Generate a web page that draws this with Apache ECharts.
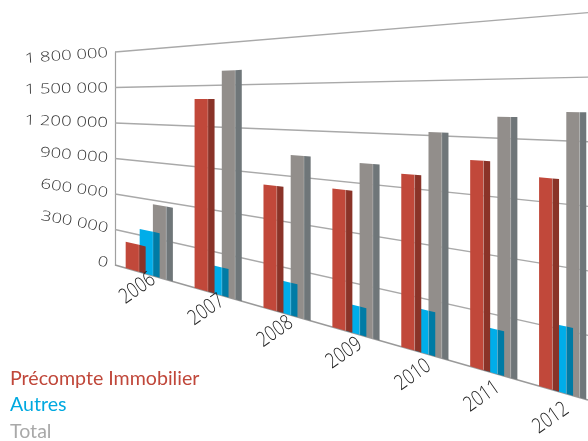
<!DOCTYPE html>
<html><head><meta charset="utf-8">
<style>html,body{margin:0;padding:0;background:#fff;overflow:hidden;width:588px;height:441px}#c{width:620px;height:500px}</style>
<script src="https://cdn.jsdelivr.net/npm/echarts@6/dist/echarts.min.js"></script>
</head><body><div id="c"></div>
<script>
const categories = ['2006','2007','2008','2009','2010','2011','2012'];
const precompte = [219000,1401000,826000,851000,978000,1080000,1017000];
const autres = [349000,200000,210000,168000,240000,226000,319000];
const total = [567000,1603000,1038000,1020000,1219000,1309000,1337000];
const yTicks = [0,300000,600000,900000,1200000,1500000,1800000];
const yTickLabels = ['0','300 000','600 000','900 000','1 200 000','1 500 000','1 800 000'];

// The flat grid is warped onto the receding wall: screen x stays, the
// baseline and the top line of the plot slope towards each other.
const G = {left:115, top:52, h:213, w:482.3};
const SPAN = 473, BASE_R = 400, TOP_R = 12.6;
function warp(x, y){
  const t = (x - G.left) / SPAN;
  const v = (G.top + G.h - y) / G.h;
  const yb = 265 + (BASE_R - 265) * t, yt = 52 + (TOP_R - 52) * t;
  return [x, yb - v * (yb - yt)];
}
function poly(pts, fill){
  return {type:'polygon', silent:true, shape:{points:pts.map(p=>warp(p[0],p[1]))}, style:{fill:fill}};
}
function barSeries(name, values, start, front, side){
  return {
    name, type:'custom', coordinateSystem:'cartesian2d', silent:true,
    data: values.map((v,i)=>[i,v]), encode:{x:0,y:1},
    itemStyle:{color:front},
    renderItem(params, api){
      const band = api.size([1,0])[0];
      const top = api.coord([api.value(0), api.value(1)]);
      const base = api.coord([api.value(0), 0]);
      const x0 = top[0] + start * band, x1 = x0 + 0.1935 * band, x2 = x0 + 0.29 * band;
      return {type:'group', children:[
        poly([[x0,top[1]],[x1,top[1]],[x1,base[1]],[x0,base[1]]], front),
        poly([[x1,top[1]],[x2,top[1]],[x2,base[1]],[x1,base[1]]], side),
        {type:'polyline', silent:true, shape:{points:[warp(x1,top[1]),warp(x1,base[1])]},
         style:{stroke:'rgba(255,255,255,0.3)', lineWidth:0.7, fill:null}}
      ]};
    }
  };
}
const gridSeries = {
  type:'custom', coordinateSystem:'cartesian2d', silent:true, z:1,
  data: yTicks.map(v=>[0,v]), encode:{y:1},
  renderItem(params, api){
    const y = api.coord([0, api.value(1)])[1];
    const isBase = api.value(1) === 0;
    return {type:'polyline', silent:true,
      shape:{points:[warp(G.left,y), warp(G.left+SPAN,y)]},
      style:{stroke:isBase?'#9a9a9a':'#a9a9a9', lineWidth:isBase?1.6:1.3, fill:null}};
  }
};
const yLabelSeries = {
  type:'custom', coordinateSystem:'cartesian2d', silent:true,
  data: yTicks.map((v,i)=>[i,v]), encode:{y:1},
  renderItem(params, api){
    const i = api.value(0), y = api.coord([0, api.value(1)])[1];
    const a = warp(G.left,y), b = warp(G.left+SPAN,y);
    const p = warp(G.left-7,y);
    return {type:'text', silent:true, x:p[0], y:p[1]+0.5,
      rotation:-Math.atan2(b[1]-a[1], b[0]-a[0])*0.85, scaleX:1.32,
      style:{text:yTickLabels[i], align:'right', verticalAlign:'middle',
        font:'300 14px "Open Sans"', fill:'#333'}};
  }
};
const xLabelSeries = {
  type:'custom', coordinateSystem:'cartesian2d', silent:true,
  data: categories.map((c,i)=>[i,-137700]), encode:{x:0,y:1},
  renderItem(params, api){
    const c = api.coord([api.value(0), api.value(1)]);
    const p = warp(c[0]-12, c[1]);
    return {type:'text', silent:true, x:p[0], y:p[1], rotation:35*Math.PI/180, scaleX:0.8,
      style:{text:categories[api.value(0)], align:'center', verticalAlign:'middle',
        font:'300 21px "Open Sans"', fill:'#222'}};
  }
};
const chart = echarts.init(document.getElementById('c'), null, {renderer:'canvas'});
chart.setOption({
  animation:false,
  backgroundColor:'#fff',
  grid:{left:G.left, top:G.top, width:G.w, height:G.h, containLabel:false},
  xAxis:{type:'category', data:categories, show:false},
  yAxis:{type:'value', min:0, max:1800000, interval:300000,
    axisLine:{show:true, lineStyle:{color:'#a0a0a0', width:1.2}},
    axisTick:{show:false}, axisLabel:{show:false}, splitLine:{show:false}},
  legend:{orient:'vertical', left:10, top:368.5, icon:'none', itemWidth:0, itemHeight:14, itemGap:6.5, padding:0, selectedMode:false,
    textStyle:{fontFamily:'Lato', fontSize:19.6, lineHeight:20, padding:[0,0,0,-6]},
    data:[
      {name:'Précompte Immobilier', textStyle:{color:'#c0473a'}},
      {name:'Autres', textStyle:{color:'#00a9e0'}},
      {name:'Total', textStyle:{color:'#a9a9a9'}}
    ]},
  series:[
    gridSeries,
    barSeries('Total', total, 0.05, '#928e8b', '#6f7679'),
    barSeries('Autres', autres, -0.142, '#00ade9', '#007ba5'),
    barSeries('Précompte Immobilier', precompte, -0.345, '#c1483a', '#8a3328'),
    yLabelSeries, xLabelSeries
  ]
});
</script></body></html>
